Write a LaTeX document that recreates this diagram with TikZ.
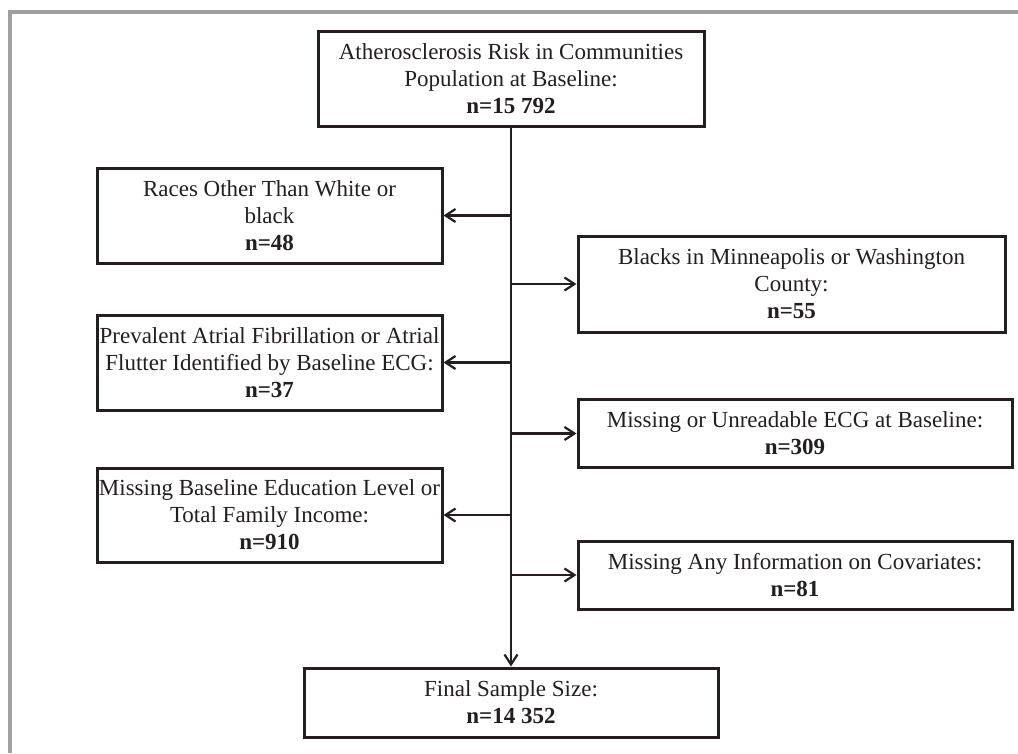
\documentclass[tikz,border=0pt]{standalone}
\usepackage{fontspec}
\setmainfont{Liberation Serif}
\usetikzlibrary{arrows.meta}
\definecolor{ink}{HTML}{231F20}
\definecolor{framegray}{HTML}{A0A0A0}
\begin{document}
\begin{tikzpicture}[x=1pt,y=-1pt,
  box/.style={draw=ink, line width=3pt, inner sep=0pt, align=center, text=ink,
    font=\fontsize{23}{27}\selectfont},
  conn/.style={draw=ink, line width=2.2pt},
  arr/.style={conn, -{Straight Barb[length=10pt,width=13pt,line width=2.2pt]}},
  frameline/.style={draw=framegray, line width=4pt}
]
\useasboundingbox (0,0) rectangle (1018,753);
\fill[white] (0,0) rectangle (1018,753);
\draw[frameline] (10,753) -- (10,12) -- (1018,12);

\node[box, minimum width=386pt, minimum height=95pt] (top) at (511,78.5)
  {Atherosclerosis Risk in Communities\\Population at Baseline:\\\textbf{n=15 792}};
\node[box, minimum width=345pt, minimum height=95pt] (races) at (269.5,215.5)
  {Races Other Than White or\\black\\\textbf{n=48}};
\node[box, minimum width=345pt, minimum height=95pt] (prev) at (269.5,362.5)
  {Prevalent Atrial Fibrillation or Atrial\\Flutter Identified by Baseline ECG:\\\textbf{n=37}};
\node[box, minimum width=345pt, minimum height=94pt] (educ) at (269.5,515)
  {Missing Baseline Education Level or\\Total Family Income:\\\textbf{n=910}};
\node[box, minimum width=427pt, minimum height=96pt] (blacks) at (791.5,284)
  {Blacks in Minneapolis or Washington\\County:\\\textbf{n=55}};
\node[box, minimum width=434pt, minimum height=68pt] (ecg) at (795,433.5)
  {Missing or Unreadable ECG at Baseline:\\\textbf{n=309}};
\node[box, minimum width=434pt, minimum height=68pt] (cov) at (795,575)
  {Missing Any Information on Covariates:\\\textbf{n=81}};
\node[box, minimum width=414pt, minimum height=69pt] (final) at (511,702.5)
  {Final Sample Size:\\\textbf{n=14 352}};

\draw[arr] (top.south) -- (final.north);
\foreach \b in {races,prev,educ}
  \draw[arr] (top.south |- \b.east) -- (\b.east);
\foreach \b in {blacks,ecg,cov}
  \draw[arr] (top.south |- \b.west) -- (\b.west);
\end{tikzpicture}
\end{document}
